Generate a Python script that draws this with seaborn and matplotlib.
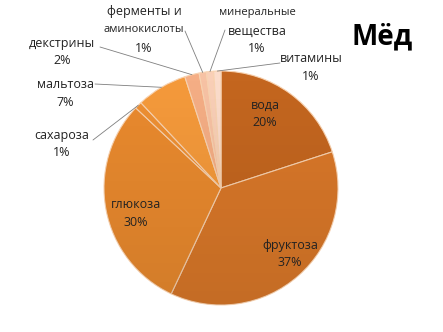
import matplotlib
matplotlib.use('Agg')
import matplotlib.pyplot as plt
import seaborn as sns
import numpy as np
from matplotlib.patches import Circle

categories = ["вода", "фруктоза", "глюкоза", "сахароза", "мальтоза", "декстрины",
              "ферменты и\nаминокислоты", "минеральные\nвещества", "витамины"]
values = [20, 37, 30, 1, 7, 2, 1, 1, 1]
title = "Мёд"

colors = ["#C4661F", "#DA7829", "#EA8A2E", "#EE9033", "#F59A3B",
          "#F5AE85", "#F7C2A4", "#F9CFB7", "#FBDCCB"]

sns.set_theme(style='white')
plt.rcParams['font.family'] = ['Open Sans', 'DejaVu Sans']

W, H = 443, 332
fig = plt.figure(figsize=(W / 100, H / 100), dpi=100)
ax = fig.add_axes([0, 0, 1, 1])
CX, CY, R = 221, 188, 117
wedges, _ = ax.pie(values, colors=colors, startangle=90, counterclock=False, radius=1,
                   wedgeprops=dict(edgecolor='#F8D2B0', linewidth=0.8))
ax.set_aspect('auto')
ax.set_xlim((0 - CX) / R, (W - CX) / R)
ax.set_ylim((CY - H) / R, CY / R)
ax.axis('off')

# subtle vertical shading over the pie
grad = np.linspace(0, 1, 256).reshape(-1, 1)
rgba = np.zeros((256, 1, 4))
rgba[..., 3] = 0.10 * grad
shade = ax.imshow(rgba, extent=(-1, 1, -1, 1), origin='upper', aspect='auto', zorder=3,
                  interpolation='bilinear')
clip = Circle((0, 0), 1, transform=ax.transData)
shade.set_clip_path(clip)
ax.set_xlim((0 - CX) / R, (W - CX) / R)
ax.set_ylim((CY - H) / R, CY / R)


def P(x, y):
    return ((x - CX) / R, (CY - y) / R)


# layout (pixel positions of the first label line, leader start)
label_xy = [(265, 105), (290, 245), (136, 205), (62, 135), (65, 84), (62, 43),
            (144, 12), (257, 13), (311, 58)]
leader_start = [None, None, None, (93, 140), (95, 84), (100, 47), (185, 31), (225, 30), (280, 63)]
small_lines = {"аминокислоты", "минеральные"}
gap = 18
text_color = "#222222"

for i, (cat, val) in enumerate(zip(categories, values)):
    lines = cat.split("\n") + [f"{val}%"]
    x0, y0 = label_xy[i]
    for k, ln in enumerate(lines):
        fs = 8 if ln in small_lines else 9
        ax.text(*P(x0, y0 + k * gap), ln, ha='center', va='center', fontsize=fs,
                color=text_color, zorder=5)
    if leader_start[i] is not None:
        w = wedges[i]
        th = np.deg2rad((w.theta1 + w.theta2) / 2)
        ex, ey = w.r * np.cos(th), w.r * np.sin(th)
        sx, sy = P(*leader_start[i])
        ax.plot([sx, ex], [sy, ey], color='#7f7f7f', lw=0.6, zorder=4)

fig.text(382 / W, 1 - 37 / H, title, ha='center', va='center', fontsize=20,
         fontweight='bold', color='black')

fig.savefig('out.png', dpi=100, facecolor='white')
